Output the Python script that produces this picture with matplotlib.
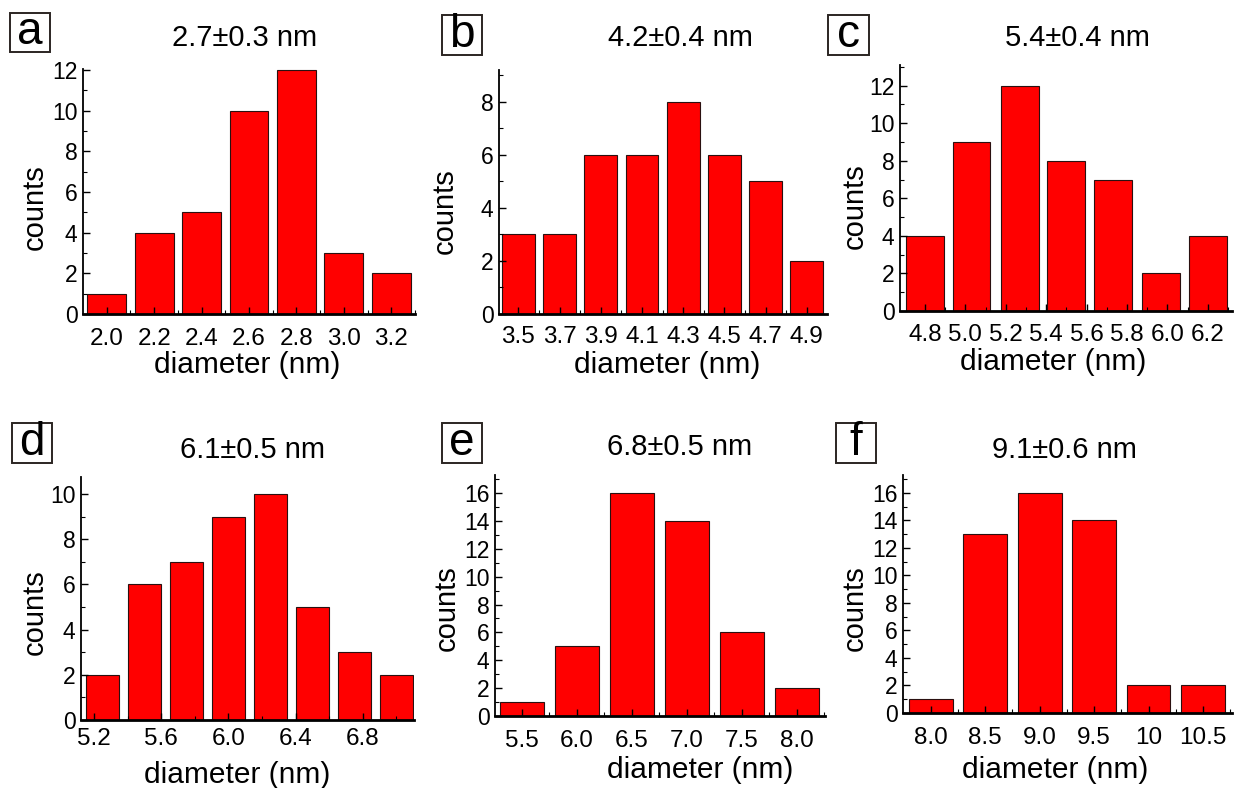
import matplotlib
matplotlib.use("Agg")
import matplotlib.pyplot as plt
from matplotlib.patches import Rectangle
from matplotlib.ticker import FixedLocator, MultipleLocator

plt.rcParams['font.family'] = ['Liberation Sans', 'DejaVu Sans']

# --- data (bin centres in nm, counts) ---
a_centers = [2.0, 2.2, 2.4, 2.6, 2.8, 3.0, 3.2]
a_counts = [1, 4, 5, 10, 12, 3, 2]
a_ticks = ['2.0', '2.2', '2.4', '2.6', '2.8', '3.0', '3.2']

b_centers = [3.5, 3.7, 3.9, 4.1, 4.3, 4.5, 4.7, 4.9]
b_counts = [3, 3, 6, 6, 8, 6, 5, 2]
b_ticks = ['3.5', '3.7', '3.9', '4.1', '4.3', '4.5', '4.7', '4.9']

c_centers = [4.80, 5.03, 5.27, 5.50, 5.73, 5.97, 6.20]
c_counts = [4, 9, 12, 8, 7, 2, 4]
c_ticks = ['4.8', '5.0', '5.2', '5.4', '5.6', '5.8', '6.0', '6.2']

d_centers = [5.25, 5.50, 5.75, 6.00, 6.25, 6.50, 6.75, 7.00]
d_counts = [2, 6, 7, 9, 10, 5, 3, 2]
d_ticks = ['5.2', '5.6', '6.0', '6.4', '6.8']

e_centers = [5.5, 6.0, 6.5, 7.0, 7.5, 8.0]
e_counts = [1, 5, 16, 14, 6, 2]
e_ticks = ['5.5', '6.0', '6.5', '7.0', '7.5', '8.0']

f_centers = [8.0, 8.5, 9.0, 9.5, 10.0, 10.5]
f_counts = [1, 13, 16, 14, 2, 2]
f_ticks = ['8.0', '8.5', '9.0', '9.5', '10', '10.5']

letters = ['a', 'b', 'c', 'd', 'e', 'f']
titles = ['2.7\u00b10.3 nm', '4.2\u00b10.4 nm', '5.4\u00b10.4 nm',
          '6.1\u00b10.5 nm', '6.8\u00b10.5 nm', '9.1\u00b10.6 nm']

panels = [
    (a_centers, a_counts, a_ticks),
    (b_centers, b_counts, b_ticks),
    (c_centers, c_counts, c_ticks),
    (d_centers, d_counts, d_ticks),
    (e_centers, e_counts, e_ticks),
    (f_centers, f_counts, f_ticks),
]

# --- layout, in pixels of the 1238x788 picture ---
W, H = 1238, 788
layout = [
    # axes box (x0, ytop, x1, ybottom), xlim, ylim top, bar width, first tick + step,
    # letter box, title / xlabel / ylabel centres, x tick label pad
    dict(ax=(83, 69, 415, 314), xlim=(1.9, 3.3), ytop=12.05, width=0.164, tick0=2.0, tstep=0.2,
         box=(10, 13, 50, 52), title=(245, 38), xlab=(247, 365), ylab=(35, 207), xpad=10),
    dict(ax=(499, 70, 827, 314), xlim=(3.406, 4.998), ytop=9.2, width=0.16, tick0=3.5, tstep=0.2,
         box=(442, 15, 482, 55), title=(680, 38), xlab=(667, 365), ylab=(445, 211), xpad=9),
    dict(ax=(900, 65, 1232, 311), xlim=(4.676, 6.32), ytop=13.1, width=0.188, tick0=4.8, tstep=0.2,
         box=(828, 15, 869, 55), title=(1077, 38), xlab=(1053, 362), ylab=(855, 206), xpad=9),
    dict(ax=(81, 477, 414, 720), xlim=(5.123, 7.105), ytop=10.75, width=0.197, tick0=5.2, tstep=0.4,
         box=(12, 423, 52, 463), title=(252, 450), xlab=(237, 775), ylab=(35, 612), xpad=6),
    dict(ax=(495, 475, 825, 716), xlim=(5.255, 8.255), ytop=17.3, width=0.4, tick0=5.5, tstep=0.5,
         box=(442, 423, 482, 463), title=(680, 447), xlab=(700, 770), ylab=(447, 608), xpad=10),
    dict(ax=(903, 475, 1232, 713), xlim=(7.745, 10.765), ytop=17.3, width=0.4, tick0=8.0, tstep=0.5,
         box=(836, 423, 876, 463), title=(1064, 450), xlab=(1055, 770), ylab=(855, 608), xpad=10),
]


def fx(x):
    return x / W


def fy(y):
    return 1 - y / H


fig = plt.figure(figsize=(12.38, 7.88), dpi=100)

for (centers, counts, ticks), lay, letter, title in zip(panels, layout, letters, titles):
    x0, y0, x1, y1 = lay['ax']
    ax = fig.add_axes([fx(x0), fy(y1), (x1 - x0) / W, (y1 - y0) / H])
    ax.bar(centers, counts, width=lay['width'], color='#ff0000',
           edgecolor='#2a1010', linewidth=0.8)
    ax.set_xlim(*lay['xlim'])
    ax.set_ylim(0, lay['ytop'])

    tick_pos = [lay['tick0'] + i * lay['tstep'] for i in range(len(ticks))]
    ax.xaxis.set_major_locator(FixedLocator(tick_pos))
    ax.set_xticklabels(ticks)
    ax.xaxis.set_minor_locator(FixedLocator([p + lay['tstep'] / 2 for p in tick_pos]))
    ax.yaxis.set_major_locator(MultipleLocator(2))
    ax.yaxis.set_minor_locator(MultipleLocator(1))

    for s in ('top', 'right'):
        ax.spines[s].set_visible(False)
    ax.spines['left'].set_linewidth(1.3)
    ax.spines['bottom'].set_linewidth(2.0)

    ax.tick_params(which='major', direction='in', length=5, width=1.0, color='black')
    ax.tick_params(which='minor', direction='in', length=3, width=0.8, color='black')
    ax.tick_params(axis='y', labelsize=16.5, pad=4)
    ax.tick_params(axis='x', labelsize=17.5, pad=lay['xpad'])

    # panel letter in a frame
    bx0, by0, bx1, by1 = lay['box']
    fig.add_artist(Rectangle((fx(bx0), fy(by1)), (bx1 - bx0) / W, (by1 - by0) / H,
                             transform=fig.transFigure, fill=False,
                             edgecolor='#2b2522', linewidth=1.4))
    fig.text(fx((bx0 + bx1) / 2), fy((by0 + by1) / 2), letter, fontsize=33,
             ha='center', va='center')

    fig.text(fx(lay['title'][0]), fy(lay['title'][1]), title, fontsize=21,
             ha='center', va='center')
    fig.text(fx(lay['xlab'][0]), fy(lay['xlab'][1]), 'diameter (nm)', fontsize=21.5,
             ha='center', va='center')
    fig.text(fx(lay['ylab'][0]), fy(lay['ylab'][1]), 'counts', fontsize=21,
             ha='center', va='center', rotation=90)

fig.savefig('out.png', dpi=100, facecolor='white')
